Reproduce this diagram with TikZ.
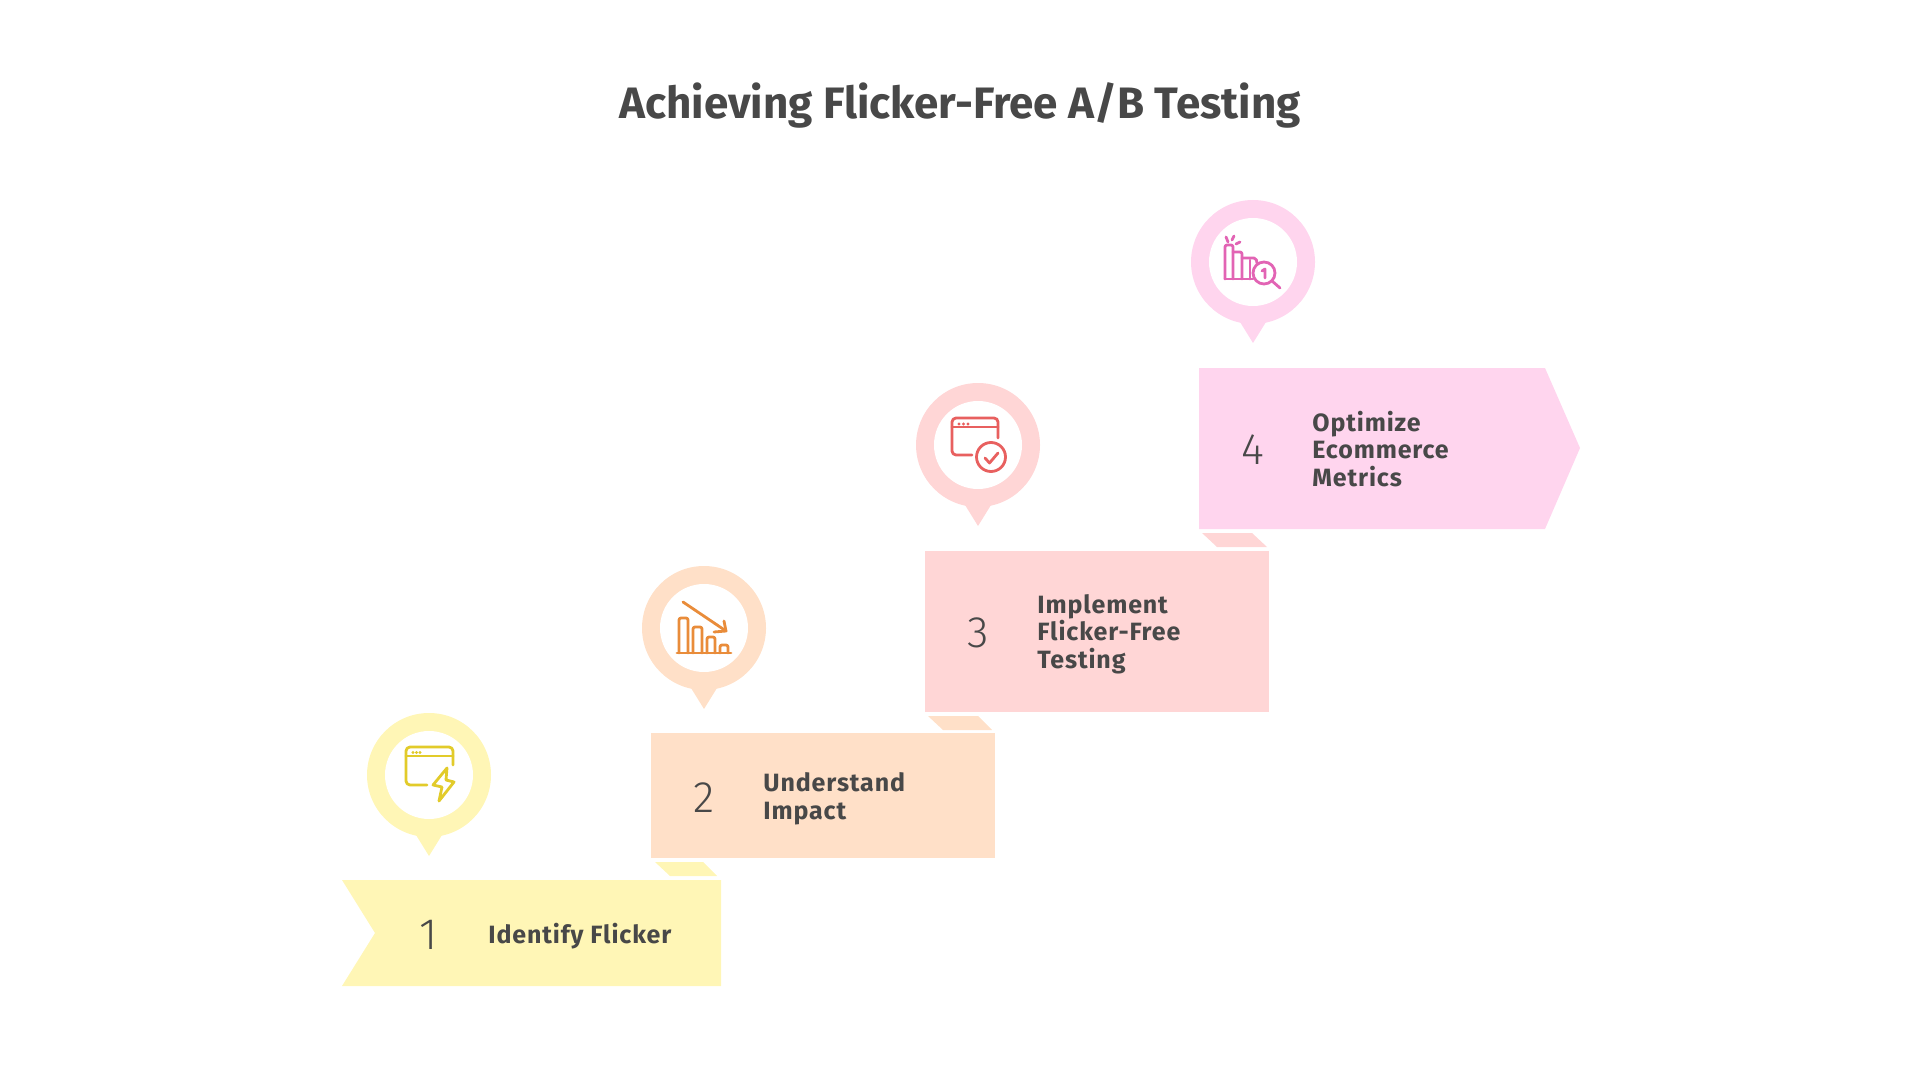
\documentclass[tikz,border=0pt]{standalone}
\usepackage{fontspec}
\setmainfont{Fira Sans}
\newfontfamily\numfont{Fira Sans Light}
\definecolor{inkgrey}{HTML}{484848}
\definecolor{paleyellow}{HTML}{FFF6B6}
\definecolor{palepeach}{HTML}{FFE0C8}
\definecolor{palerose}{HTML}{FFD6D6}
\definecolor{palepink}{HTML}{FFD5EE}
\definecolor{iconyellow}{HTML}{E2CB2A}
\definecolor{iconorange}{HTML}{E98C3A}
\definecolor{iconrose}{HTML}{E8605F}
\definecolor{iconpink}{HTML}{E264B4}
\tikzset{
	headline/.style={font=\bfseries\fontsize{22}{26}\selectfont,text=inkgrey},
	steplabel/.style={font=\bfseries\fontsize{12.5}{13.75}\selectfont\addfontfeature{LetterSpace=3.5},text=inkgrey,align=left,anchor=west,inner sep=0pt},
	stepnum/.style={font=\numfont\fontsize{22}{24}\selectfont,text=inkgrey,inner sep=0pt},
	iconline/.style={line width=1.4pt,line cap=round,line join=round}
}
\begin{document}
\begin{tikzpicture}[x=0.5pt,y=-0.5pt]
	\useasboundingbox (0,0) rectangle (1920,1080);
	% title
	\node[headline] (title) at (960,105) {Achieving Flicker-Free A/B Testing};
	% steps
	\fill[paleyellow] (342,880) -- (721,880) -- (721,986) -- (342,986) -- (375,933) -- cycle;
	\fill[palepeach] (651,733) -- (995,733) -- (995,858) -- (651,858) -- cycle;
	\fill[palerose] (925,551) -- (1269,551) -- (1269,712) -- (925,712) -- cycle;
	\fill[palepink] (1199,368) -- (1545,368) -- (1580,448) -- (1545,529) -- (1199,529) -- cycle;
	% folds
	\fill[paleyellow] (655,862) -- (703,862) -- (717,876) -- (670,876) -- cycle;
	\fill[palepeach] (928,716) -- (978,716) -- (992,730) -- (943,730) -- cycle;
	\fill[palerose] (1202,533) -- (1252,533) -- (1267,547) -- (1217,547) -- cycle;
	% pins
	\foreach \cx/\cy/\pale in {429/775/paleyellow,704/628/palepeach,978/445/palerose,1253/262/palepink}{
		\fill[\pale] (\cx-13,\cy+60) -- (\cx,\cy+81) -- (\cx+13,\cy+60) -- cycle;
		\fill[\pale] (\cx,\cy) circle (62);
		\fill[white] (\cx,\cy) circle (44);
	}
	% numbers and labels
	\node[stepnum] (num1) at (429,935) {1};
	\node[stepnum] (num2) at (704,798) {2};
	\node[stepnum] (num3) at (978,633) {3};
	\node[stepnum] (num4) at (1253,450) {4};
	\node[steplabel] (label1) at (488,936) {Identify Flicker};
	\node[steplabel] (label2) at (763,799) {Understand\\Impact};
	\node[steplabel] (label3) at (1037,634) {Implement\\Flicker-Free\\Testing};
	\node[steplabel] (label4) at (1312,449) {Optimize\\Ecommerce\\Metrics};
	% icon 1
	\draw[iconline,iconyellow,rounded corners=2pt] (453,765) -- (453,747) -- (406,747) -- (406,785) -- (427,785);
	\draw[iconline,iconyellow] (406,756) -- (453,756);
	\foreach \dx in {413,416.5,420}{\fill[iconyellow] (\dx,752.5) circle (1.6);}
	\draw[iconline,iconyellow] (447,768) -- (433,785) -- (442,787) -- (439,801) -- (454,782) -- (446,780) -- cycle;
	% icon 2
	\draw[iconline,iconorange] (683,602) -- (726,631);
	\draw[iconline,iconorange] (724,621) -- (726,631) -- (714,632);
	\draw[iconline,iconorange] (677,653) -- (731,653);
	\draw[iconline,iconorange,rounded corners=1pt] (679,653) -- (679,618) -- (688,618) -- (688,653);
	\draw[iconline,iconorange,rounded corners=1pt] (693,653) -- (693,627) -- (702,627) -- (702,653);
	\draw[iconline,iconorange,rounded corners=1pt] (707,653) -- (707,637) -- (715,637) -- (715,653);
	\draw[iconline,iconorange,rounded corners=1pt] (720,653) -- (720,645) -- (728,645) -- (728,653);
	% icon 3
	\draw[iconline,iconrose,rounded corners=2pt] (998,438) -- (998,418) -- (952,418) -- (952,455) -- (972,455);
	\draw[iconline,iconrose] (952,427) -- (998,427);
	\foreach \dx in {959,963.5,968}{\fill[iconrose] (\dx,424) circle (1.6);}
	\draw[iconline,iconrose] (991,457) circle (14.5);
	\draw[iconline,iconrose] (985,458) -- (989.5,463) -- (998,453);
	% icon 4
	\draw[iconline,iconpink,rounded corners=1pt] (1225,279) -- (1225,245) -- (1233,245) -- (1233,279);
	\draw[iconline,iconpink,rounded corners=1pt] (1233,252) -- (1242,252) -- (1242,279);
	\draw[iconline,iconpink,rounded corners=1pt] (1242,258) -- (1256,258) -- (1257,263);
	\draw[iconline,iconpink] (1250,260) -- (1250,279);
	\draw[iconline,iconpink] (1225,279) -- (1253,279);
	\draw[iconline,iconpink] (1264,273) circle (11);
	\draw[iconline,iconpink] (1272,281) -- (1280,288);
	\draw[iconline,iconpink] (1262,271) -- (1265,269) -- (1265,278);
	\draw[iconline,iconpink] (1226,237) -- (1228,242);
	\draw[iconline,iconpink] (1234,236) -- (1232,240);
	\draw[iconline,iconpink] (1240,242) -- (1236,244);
\end{tikzpicture}
\end{document}
